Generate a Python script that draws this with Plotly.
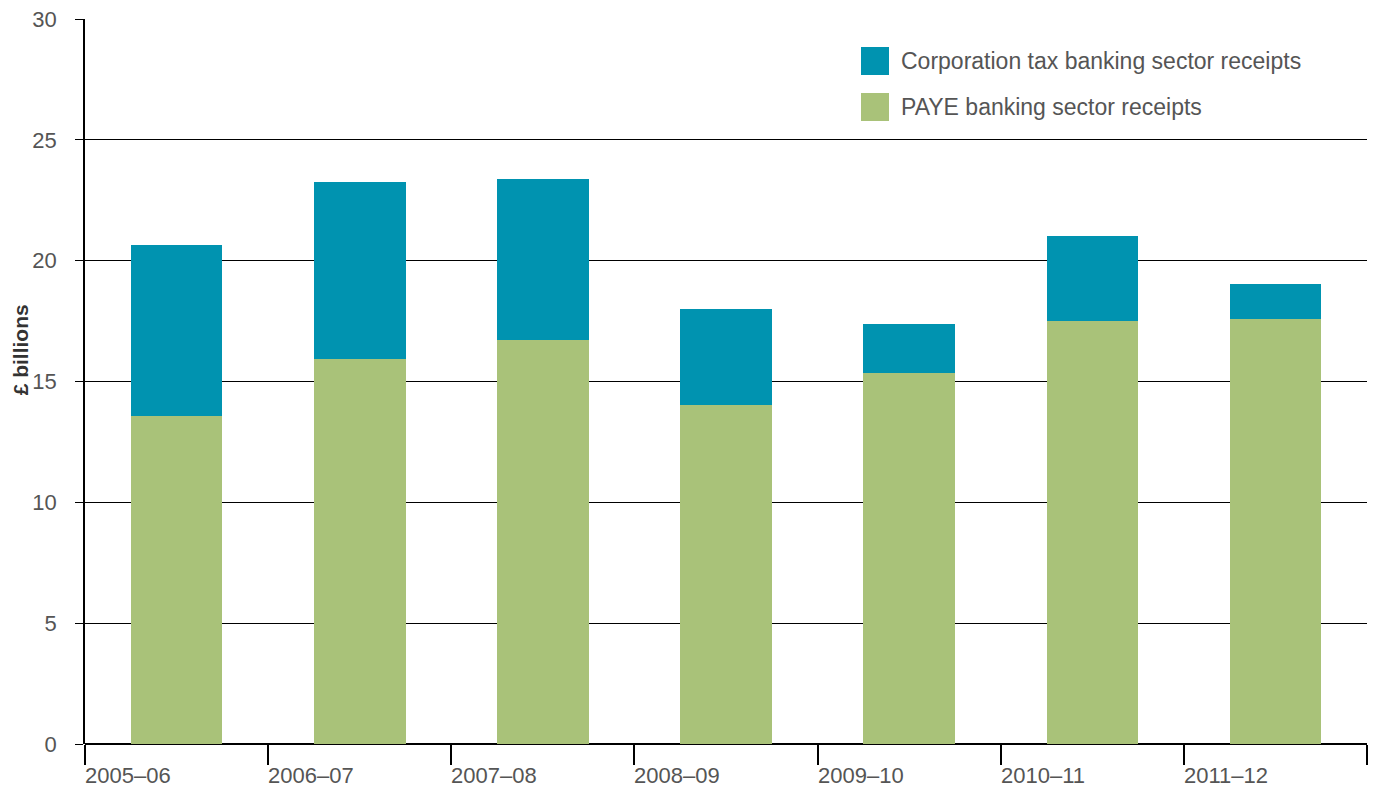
import plotly.graph_objects as go

years = ["2005–06", "2006–07", "2007–08", "2008–09", "2009–10", "2010–11", "2011–12"]
paye = [13.57, 15.93, 16.72, 14.03, 15.35, 17.50, 17.58]
corp_tax = [7.08, 7.32, 6.66, 3.97, 2.03, 3.52, 1.45]
y_ticks = [0, 5, 10, 15, 20, 25, 30]

TEAL = "#0093B0"
GREEN = "#A9C279"
TEXT = "#555555"

positions = [i + 0.5 for i in range(len(years))]

fig = go.Figure()
fig.add_trace(go.Bar(x=positions, y=paye, name="PAYE banking sector receipts",
                     marker=dict(color=GREEN, line=dict(width=0)), width=0.5))
fig.add_trace(go.Bar(x=positions, y=corp_tax, name="Corporation tax banking sector receipts",
                     marker=dict(color=TEAL, line=dict(width=0)), width=0.5))

# category labels sit just right of each boundary tick
for i, label in enumerate(years):
    fig.add_annotation(x=i, y=0, xref="x", yref="y", text=label, showarrow=False,
                       xanchor="left", yanchor="top", xshift=-2, yshift=-17,
                       font=dict(size=22, color=TEXT))

# legend drawn as swatches with labels
legend_items = [("Corporation tax banking sector receipts", TEAL),
                ("PAYE banking sector receipts", GREEN)]
for k, (label, color) in enumerate(legend_items):
    top = 47 + k * 46
    y0 = (744 - (top + 28)) / 725
    y1 = (744 - top) / 725
    fig.add_shape(type="rect", xref="paper", yref="paper",
                  x0=(861 - 85) / 1282, x1=(889 - 85) / 1282, y0=y0, y1=y1,
                  fillcolor=color, line=dict(width=0))
    fig.add_annotation(xref="paper", yref="paper", x=(899 - 85) / 1282, y=(y0 + y1) / 2,
                       text=label, showarrow=False, xanchor="left", yanchor="middle",
                       font=dict(size=23, color=TEXT))

fig.add_annotation(xref="paper", yref="paper", x=-65 / 1282, y=0.543, text="<b>£ billions</b>",
                   textangle=-90, showarrow=False, xanchor="center", yanchor="middle",
                   font=dict(size=21, color="#333333"))

fig.update_layout(
    barmode="stack",
    width=1375, height=787,
    margin=dict(l=85, r=8, t=19, b=43),
    paper_bgcolor="white", plot_bgcolor="white",
    showlegend=False,
    font=dict(family="Liberation Sans, Arial, sans-serif", color=TEXT),
    xaxis=dict(range=[0, 7], tickvals=list(range(8)), ticktext=[""] * 8,
               ticks="outside", ticklen=20, tickcolor="black", tickwidth=1.5,
               showgrid=False, zeroline=False, showline=False, fixedrange=True),
    yaxis=dict(range=[0, 30], tickvals=y_ticks, ticks="outside", ticklen=8,
               tickcolor="black", tickwidth=1, showgrid=True, gridcolor="black",
               gridwidth=1, showline=True, linecolor="black", linewidth=1.5,
               zeroline=True, zerolinecolor="black", zerolinewidth=1.5,
               ticklabelstandoff=14, tickfont=dict(size=22, color=TEXT)),
)

fig.write_html("out.html")
